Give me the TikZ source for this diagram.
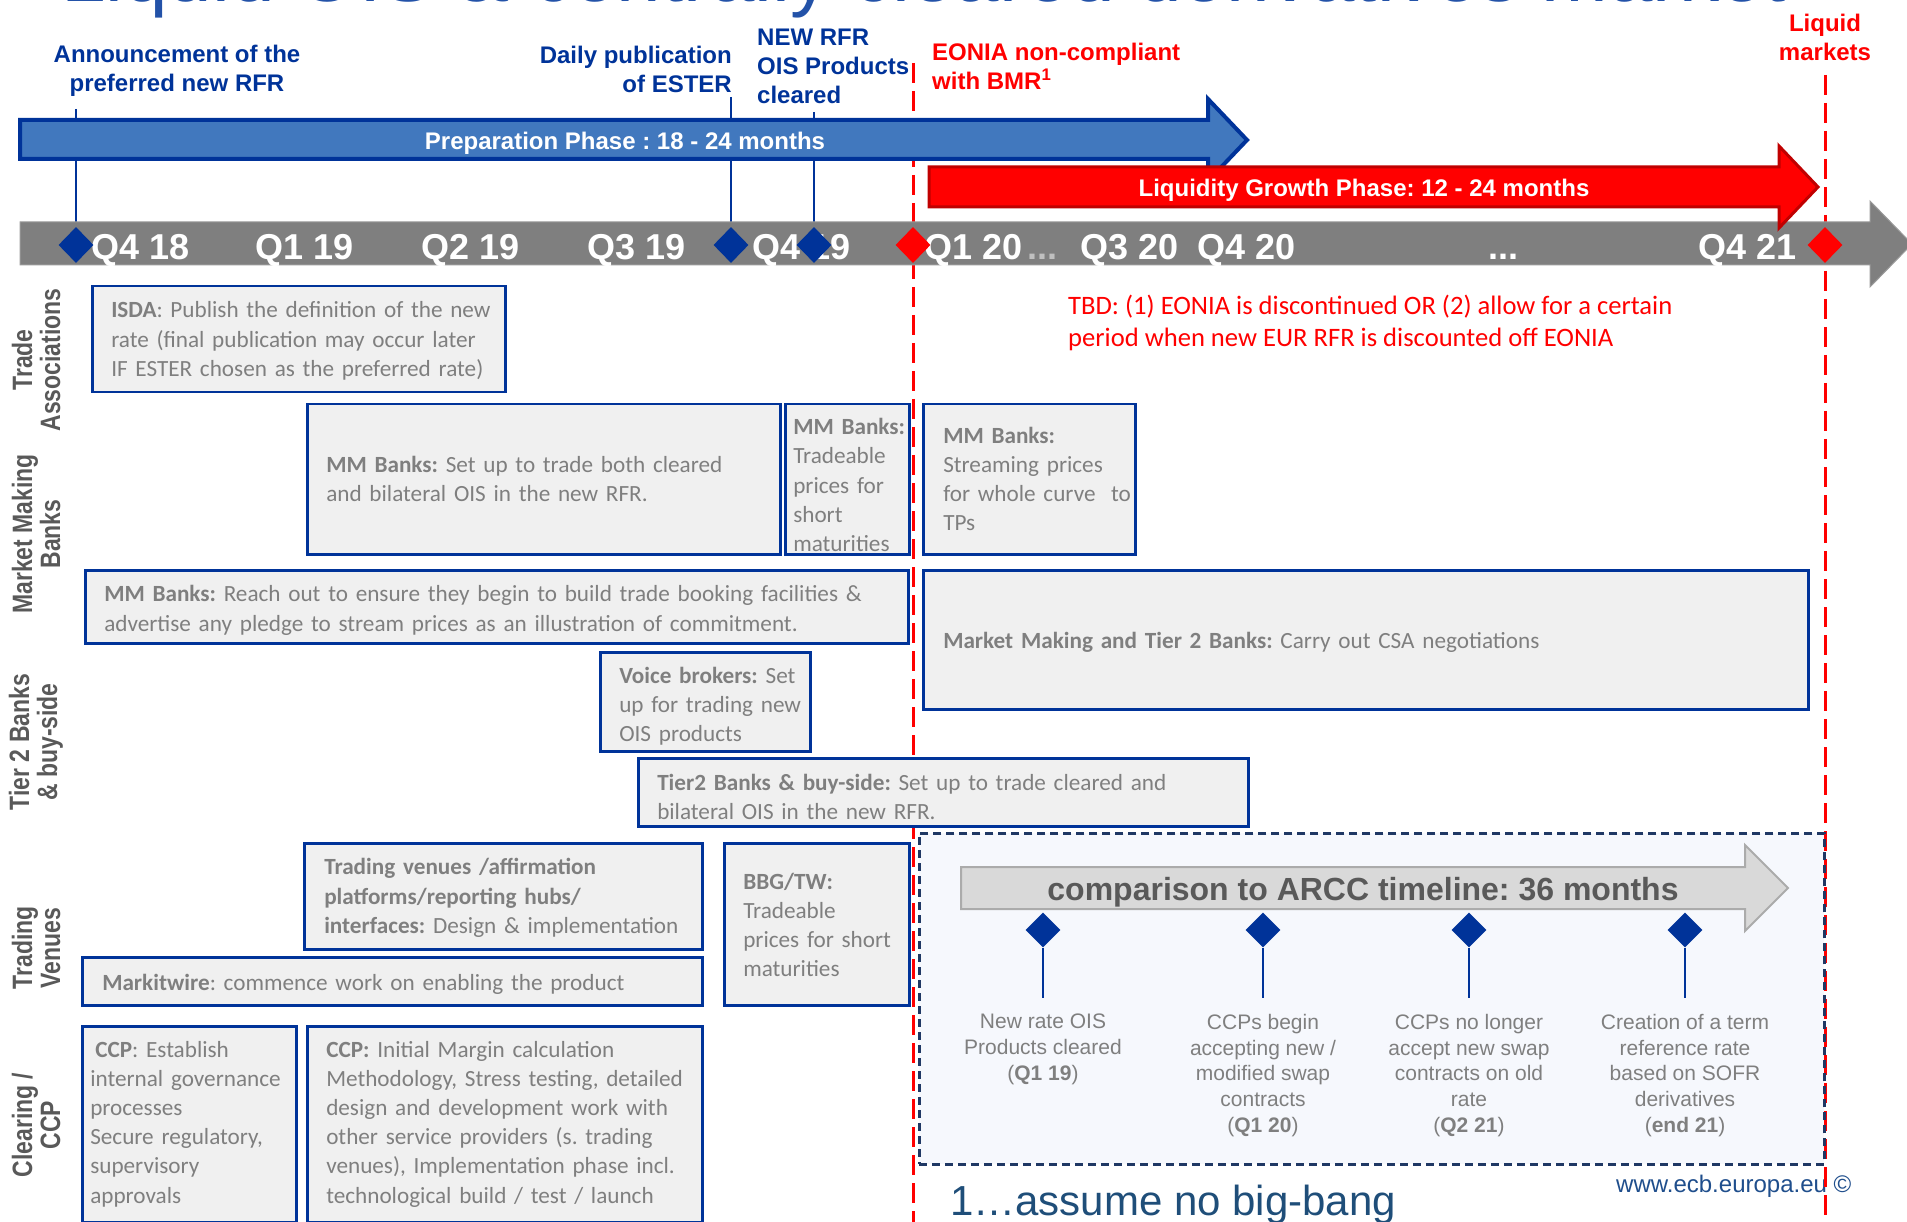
\documentclass[tikz,border=0pt]{standalone}
\usepackage{fontspec}
\setmainfont{Liberation Sans}
\newfontfamily\calfont{Carlito}
\newfontfamily\lanefont[FakeStretch=0.82]{Liberation Sans}
\usetikzlibrary{shapes.geometric,calc}
\definecolor{navy}{HTML}{003399}
\definecolor{prepfill}{HTML}{4178BE}
\definecolor{redborder}{HTML}{C00000}
\definecolor{barfill}{HTML}{7F7F7F}
\definecolor{barline}{HTML}{9A9A9A}
\definecolor{boxfill}{HTML}{F0F0F0}
\definecolor{txtgrey}{HTML}{7F7F7F}
\definecolor{lanegrey}{HTML}{595959}
\definecolor{cmpfill}{HTML}{D9D9D9}
\definecolor{cmpline}{HTML}{ABABAB}
\definecolor{dashnavy}{HTML}{1F3864}
\definecolor{dashfill}{HTML}{F6F8FD}
\definecolor{footblue}{HTML}{1F4E79}
\definecolor{webblue}{HTML}{1F4E8C}
\definecolor{titleblue}{HTML}{2352A8}
\definecolor{dotgrey}{HTML}{BFBFBF}
% optional argument: downward shift of the lines inside the box (pt), box size unchanged
\newcommand\boxlines[2][2]{\noindent\vbox{\vskip #1pt\hbox{\begin{tabular}{@{}l@{}}#2\end{tabular}}\vskip -#1pt}}
\begin{document}
\frenchspacing
\begin{tikzpicture}[x=1pt,y=-1pt,
  conn/.style={draw=navy, line width=2pt},
  reddash/.style={draw=red, line width=3pt, dash pattern=on 20pt off 8pt},
  bdiam/.style={diamond, fill=navy, minimum width=35pt, minimum height=36pt, inner sep=0pt},
  rdiam/.style={diamond, fill=red, minimum width=35pt, minimum height=36pt, inner sep=0pt},
  mdiam/.style={diamond, fill=navy, minimum width=35pt, minimum height=35pt, inner sep=0pt},
  qlab/.style={anchor=base west, text=white, inner sep=0pt, font=\bfseries\fontsize{36}{40}\selectfont},
  toplab/.style={text=navy, inner sep=0pt, font=\bfseries\fontsize{24}{29}\selectfont},
  redlab/.style={text=red, inner sep=0pt, font=\bfseries\fontsize{24}{29}\selectfont},
  arrowtext/.style={anchor=base, text=white, inner sep=0pt, font=\bfseries\fontsize{24}{28}\selectfont},
  lane/.style={rotate=90, align=center, text=lanegrey, inner sep=0pt, font=\lanefont\bfseries\fontsize{28}{28}\selectfont},
  tbox/.style={draw=navy, line width=2.5pt, fill=boxfill, text=txtgrey, anchor=north west, inner ysep=0pt, font=\calfont\fontsize{23.2}{29.2}\selectfont},
  mtext/.style={anchor=north, align=center, text=txtgrey, inner sep=0pt, font=\fontsize{21}{25.7}\selectfont}
]
\useasboundingbox (0,0) rectangle (1907,1222);
\clip (0,0) rectangle (1907,1222);

% title (cut by the page top, as in the slide)
\node[anchor=base west, inner sep=0pt, text=titleblue, font=\fontsize{80}{90}\selectfont] (title) at (61,2) {Liquid OIS \& centrally cleared derivatives market};

% web address (under the dashed line)
\node[anchor=base west, inner sep=0pt, text=webblue, font=\fontsize{24}{28}\selectfont] (web) at (1616,1192) {www.ecb.europa.eu ©};

% diamond positions and connector tops
\coordinate (pd1) at (76,245);
\coordinate (pd2) at (731,245);
\coordinate (pd3) at (814,245);
\coordinate (pr1) at (913,245);
\coordinate (pr2) at (1825,245);
\coordinate (a1) at (76,109);
\coordinate (a2) at (731,97);
\coordinate (a3) at (814,112);
\draw[conn] (a1) -- (pd1);
\draw[conn] (a2) -- (pd2);
\draw[conn] (a3) -- (pd3);

% red dashed milestones
\coordinate (r1top) at (913,63);
\coordinate (r1bot) at (913,1222);
\coordinate (r2top) at (1825,75);
\coordinate (r2bot) at (1825,1222);
\draw[reddash] (r1top) -- (r1bot);
\draw[reddash] (r2top) -- (r2bot);

% time bar
\draw[fill=barfill, draw=barline, line width=1pt] (20,222) -- (1870,222) -- (1870,201) -- (1912,244) -- (1870,287) -- (1870,265) -- (20,265) -- cycle;
% preparation phase arrow
\draw[draw=navy, fill=prepfill, line width=4pt, line join=miter] (20,120) -- (1208,120) -- (1208,99) -- (1247,140) -- (1208,181) -- (1208,159) -- (20,159) -- cycle;
% liquidity growth arrow
\draw[draw=redborder, fill=red, line width=3pt, line join=miter] (929,167) -- (1779,167) -- (1779,146) -- (1818,187) -- (1779,228) -- (1779,207) -- (929,207) -- cycle;

\node[arrowtext] (prep) at (625,150) {Preparation Phase : 18 - 24 months};
\node[arrowtext] (liqg) at (1364,197) {Liquidity Growth Phase: 12 - 24 months};

% quarter labels
\node[qlab] (q1) at (91,260) {Q4 18};
\node[qlab] (q2) at (255,260) {Q1 19};
\node[qlab] (q3) at (421,260) {Q2 19};
\node[qlab] (q4) at (587,260) {Q3 19};
\node[qlab] (q5) at (752,260) {Q4 19};
\node[qlab] (q6) at (924,260) {Q1 20};
\node[qlab, text=dotgrey] (dots1) at (1027,260) {...};
\node[qlab] (q7) at (1080,260) {Q3 20};
\node[qlab] (q8) at (1197,260) {Q4 20};
\node[qlab] (dots2) at (1488,260) {...};
\node[qlab] (q9) at (1698,260) {Q4 21};

% diamonds on the bar
\node[bdiam] (d1) at (pd1) {};
\node[bdiam] (d2) at (pd2) {};
\node[bdiam] (d3) at (pd3) {};
\node[rdiam] (dr1) at (pr1) {};
\node[rdiam] (dr2) at (pr2) {};

% top labels
\node[toplab, anchor=north, align=center] (ann) at (177,45) {Announcement of the\\preferred new RFR};
\node[toplab, anchor=north east, align=right] (ester) at (732,46) {Daily publication\\of ESTER};
\node[toplab, anchor=north west, align=left] (newrfr) at (757,29) {NEW RFR\\OIS Products\\cleared};
\node[redlab, anchor=north west, align=left] (eonia) at (932,43) {EONIA non-compliant\\with BMR\textsuperscript{1}};
\node[redlab, anchor=north, align=center] (liquid) at (1825,14) {Liquid\\markets};

\node[anchor=north west, align=left, text=red, inner sep=0pt, font=\calfont\fontsize{26.6}{32}\selectfont] (tbd) at (1068,295) {TBD: (1) EONIA is discontinued OR (2) allow for a certain\\period when new EUR RFR is discounted off EONIA};

% lane labels
\node[lane] (lane1) at (36,360) {Trade\\Associations};
\node[lane] (lane2) at (36,534) {Market Making\\Banks};
\node[lane] (lane3) at (36,742) {Tier 2 Banks\\\& buy-side};
\node[lane] (lane4) at (36,948) {Trading\\Venues};
\node[lane] (lane5) at (36,1125) {Clearing /\\CCP};

% activity boxes
\node[tbox, text width=375pt, inner xsep=19pt, minimum height=106pt] (isda) at (91,285) {\boxlines{\textbf{ISDA}: Publish the definition of the new\\rate (final publication may occur later\\IF ESTER chosen as the preferred rate)}};
\node[tbox, text width=435pt, inner xsep=19pt, minimum height=150pt] (mmsetup) at (306,403) {\boxlines{\textbf{MM Banks:} Set up to trade both cleared\\and bilateral OIS in the new RFR.}};
\node[tbox, text width=108pt, inner xsep=8pt, minimum height=150pt] (mmtrade) at (784,403) {\boxlines[8]{\textbf{MM Banks:}\\Tradeable\\prices for\\short\\maturities}};
\node[tbox, text width=172pt, inner xsep=20pt, minimum height=150pt] (mmstream) at (922,403) {\boxlines{\textbf{MM Banks:}\\Streaming prices\\for whole curve\ \ to\\TPs}};
\node[tbox, text width=785pt, inner xsep=19pt, minimum height=73pt] (mmreach) at (84,569) {\boxlines[4]{\textbf{MM Banks:} Reach out to ensure they begin to build trade booking facilities \&\\advertise any pledge to stream prices as an illustration of commitment.}};
\node[tbox, text width=845pt, inner xsep=20pt, minimum height=139pt] (mmt2) at (922,569) {\boxlines[3]{\textbf{Market Making and Tier 2 Banks:} Carry out CSA negotiations}};
\node[tbox, text width=172pt, inner xsep=19pt, minimum height=99pt] (voice) at (599,651) {\boxlines[5]{\textbf{Voice brokers:} Set\\up for trading new\\OIS products}};
\node[tbox, text width=572pt, inner xsep=19pt, minimum height=68pt] (tier2) at (637,757) {\boxlines[7]{\textbf{Tier2 Banks \& buy-side:} Set up to trade cleared and\\bilateral OIS in the new RFR.}};
\node[tbox, text width=358pt, inner xsep=20pt, minimum height=106pt] (tv) at (303,842) {\boxlines{\textbf{Trading venues /affirmation}\\\textbf{platforms/reporting hubs/}\\\textbf{interfaces:} Design \& implementation}};
\node[tbox, text width=147pt, inner xsep=19pt, minimum height=162pt] (bbg) at (723,842) {\boxlines[3]{\textbf{BBG/TW:}\\Tradeable\\prices for short\\maturities}};
\node[tbox, text width=580pt, inner xsep=20pt, minimum height=48pt] (markit) at (81,956) {\boxlines[3]{\textbf{Markitwire}: commence work on enabling the product}};
\node[tbox, text width=198pt, inner xsep=8pt, minimum height=196pt] (ccp1) at (81,1025) {\boxlines[0]{\hspace*{5pt}\textbf{CCP}: Establish\\internal governance\\processes\\Secure regulatory,\\supervisory\\approvals}};
\node[tbox, text width=357pt, inner xsep=19pt, minimum height=196pt] (ccp2) at (306,1025) {\boxlines[0]{\textbf{CCP:} Initial Margin calculation\\Methodology, Stress testing, detailed\\design and development work with\\other service providers (s. trading\\venues), Implementation phase incl.\\technological build / test / launch}};

% comparison panel
\node[draw=dashnavy, fill=dashfill, line width=2.5pt, dash pattern=on 8pt off 5pt, anchor=north west, minimum width=905pt, minimum height=331pt, inner sep=0pt] (cmpbox) at (918,832) {};
\draw[fill=cmpfill, draw=cmpline, line width=2pt, line join=miter] (961,867) -- (1745,867) -- (1745,845) -- (1788,888) -- (1745,931) -- (1745,909) -- (961,909) -- cycle;
\node[anchor=base, text=lanegrey, inner sep=0pt, font=\bfseries\fontsize{32}{36}\selectfont] (cmp) at (1363,900) {comparison to ARCC timeline: 36 months};

\node[mdiam] (m1) at (1043,930) {};
\node[mdiam] (m2) at (1263,930) {};
\node[mdiam] (m3) at (1469,930) {};
\node[mdiam] (m4) at (1685,930) {};
\coordinate (m1b) at (1043,998);
\coordinate (m2b) at (1263,998);
\coordinate (m3b) at (1469,998);
\coordinate (m4b) at (1685,998);
\draw[conn] (m1) -- (m1b);
\draw[conn] (m2) -- (m2b);
\draw[conn] (m3) -- (m3b);
\draw[conn] (m4) -- (m4b);
\node[mtext] (t1) at (1043,1014) {New rate OIS\\Products cleared\\(\textbf{Q1 19})};
\node[mtext] (t2) at (1263,1014) {CCPs begin\\accepting new /\\modified swap\\contracts\\(\textbf{Q1 20})};
\node[mtext] (t3) at (1469,1014) {CCPs no longer\\accept new swap\\contracts on old\\rate\\(\textbf{Q2 21})};
\node[mtext] (t4) at (1685,1014) {Creation of a term\\reference rate\\based on SOFR\\derivatives\\(\textbf{end 21})};

% footnote
\node[anchor=base west, inner sep=0pt, text=footblue, font=\fontsize{42}{48}\selectfont] (foot) at (950,1215) {1…assume no big-bang};
\end{tikzpicture}
\end{document}
